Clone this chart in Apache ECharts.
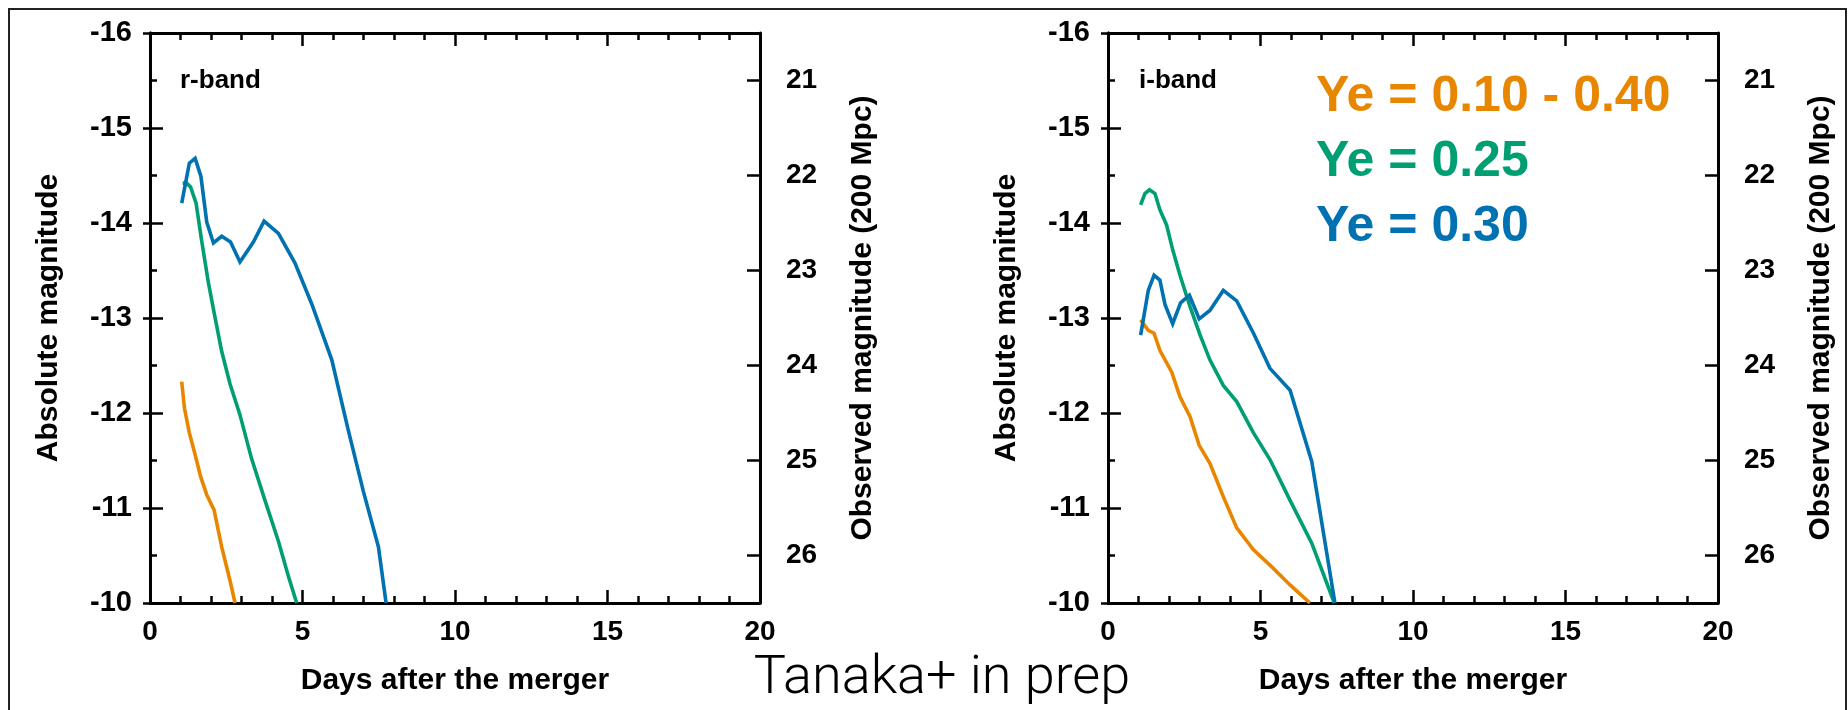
<!DOCTYPE html>
<html>
<head>
<meta charset="utf-8">
<script src="https://cdn.jsdelivr.net/npm/echarts@6/dist/echarts.min.js"></script>
<style>html,body{margin:0;padding:0;background:#fff}#c{width:1848px;height:710px}</style>
</head>
<body>
<div id="c"></div>
<script>
// ---- data (days after merger, absolute magnitude) ----
const rOrange = [[1.04,-12.33],[1.13,-12.05],[1.29,-11.79],[1.48,-11.56],[1.66,-11.33],[1.86,-11.14],[2.10,-10.98],[2.35,-10.59],[2.62,-10.24],[2.79,-10.0]];
const rGreen = [[1.07,-14.42],[1.20,-14.42],[1.33,-14.38],[1.51,-14.21],[1.69,-13.82],[1.91,-13.38],[2.13,-13.01],[2.35,-12.65],[2.62,-12.31],[2.95,-11.98],[3.33,-11.52],[3.77,-11.08],[4.21,-10.65],[4.54,-10.28],[4.81,-10.0]];
const rBlue = [[1.04,-14.21],[1.29,-14.63],[1.48,-14.68],[1.67,-14.49],[1.86,-14.01],[2.08,-13.79],[2.35,-13.86],[2.64,-13.80],[2.95,-13.59],[3.39,-13.80],[3.74,-14.02],[4.21,-13.89],[4.75,-13.58],[5.30,-13.15],[5.96,-12.56],[6.50,-11.82],[7.00,-11.17],[7.49,-10.59],[7.74,-10.0]];
const iOrange = [[1.07,-12.98],[1.32,-12.87],[1.51,-12.84],[1.70,-12.66],[2.09,-12.43],[2.36,-12.17],[2.69,-11.96],[2.99,-11.66],[3.34,-11.47],[3.78,-11.12],[4.22,-10.79],[4.77,-10.56],[5.37,-10.38],[5.97,-10.19],[6.62,-10.0]];
const iGreen = [[1.07,-14.19],[1.21,-14.31],[1.36,-14.35],[1.54,-14.31],[1.70,-14.14],[1.92,-13.98],[2.12,-13.72],[2.36,-13.45],[2.69,-13.12],[3.02,-12.82],[3.34,-12.56],[3.78,-12.29],[4.22,-12.12],[4.77,-11.79],[5.31,-11.51],[5.97,-11.08],[6.68,-10.63],[7.42,-10.0]];
const iBlue = [[1.07,-12.82],[1.32,-13.29],[1.51,-13.45],[1.70,-13.40],[1.87,-13.14],[2.12,-12.94],[2.38,-13.16],[2.67,-13.24],[2.99,-12.99],[3.34,-13.08],[3.78,-13.29],[4.22,-13.18],[4.77,-12.84],[5.31,-12.47],[5.97,-12.24],[6.68,-11.49],[7.44,-10.0]];
const obsTicks = [21, 22, 23, 24, 25, 26];
const legendLabels = ['Ye = 0.10 - 0.40', 'Ye = 0.25', 'Ye = 0.30'];
const bandLabels = ['r-band', 'i-band'];
const colors = ['#E88600', '#009E73', '#0072B2'];
const distMod = 36.5; // 200 Mpc

const FONT = 'Liberation Sans';
const chart = echarts.init(document.getElementById('c'), null, {renderer: 'canvas'});

const grids = [
  {left: 150, top: 33, width: 610, height: 570},
  {left: 1108, top: 33, width: 610, height: 570}
];
const axisLine = {show: true, lineStyle: {color: '#000', width: 3}};
const tickStyle = {color: '#000', width: 2.5};

const xAxes = [], yAxes = [], series = [];
grids.forEach((g, gi) => {
  xAxes.push({
    type: 'value', gridIndex: gi, position: 'bottom', min: 0, max: 20, interval: 5,
    axisLine, splitLine: {show: false},
    axisTick: {inside: true, length: 13, lineStyle: tickStyle},
    minorTick: {show: true, splitNumber: 5, length: 7, lineStyle: tickStyle},
    axisLabel: {margin: 15, color: '#000', fontFamily: FONT, fontWeight: 'bold', fontSize: 28},
    name: 'Days after the merger', nameLocation: 'middle', nameGap: 63,
    nameTextStyle: {color: '#000', fontFamily: FONT, fontWeight: 'bold', fontSize: 30}
  });
  xAxes.push({
    type: 'value', gridIndex: gi, position: 'top', min: 0, max: 20, interval: 5,
    axisLine, splitLine: {show: false},
    axisTick: {inside: true, length: 13, lineStyle: tickStyle},
    minorTick: {show: true, splitNumber: 5, length: 7, lineStyle: tickStyle},
    axisLabel: {show: false}
  });
  yAxes.push({
    type: 'value', gridIndex: gi, position: 'left', min: -16, max: -10, interval: 1, inverse: true,
    axisLine, splitLine: {show: false},
    axisTick: {inside: true, length: 13, lineStyle: tickStyle},
    minorTick: {show: true, splitNumber: 2, length: 7, lineStyle: tickStyle},
    axisLabel: {margin: 18, color: '#000', fontFamily: FONT, fontWeight: 'bold', fontSize: 29},
    name: 'Absolute magnitude', nameLocation: 'middle', nameGap: 86,
    nameTextStyle: {color: '#000', fontFamily: FONT, fontWeight: 'bold', fontSize: 30}
  });
  yAxes.push({
    type: 'value', gridIndex: gi, position: 'right', min: -16, max: -10, interval: 1, inverse: true,
    axisLine, splitLine: {show: false},
    axisTick: {inside: true, length: 7, lineStyle: tickStyle},
    axisLabel: {show: false}
  });
  yAxes.push({
    type: 'value', gridIndex: gi, position: 'right', min: -16 + distMod, max: -10 + distMod, inverse: true,
    axisLine, splitLine: {show: false},
    axisTick: {inside: true, length: 13, lineStyle: tickStyle, customValues: obsTicks},
    axisLabel: {margin: 26, color: '#000', fontFamily: FONT, fontWeight: 'bold', fontSize: 28, customValues: obsTicks},
    name: 'Observed magnitude (200 Mpc)', nameLocation: 'middle', nameGap: 88, nameRotate: 90,
    nameTextStyle: {color: '#000', fontFamily: FONT, fontWeight: 'bold', fontSize: 30}
  });
});

const panels = [[rOrange, rGreen, rBlue], [iOrange, iGreen, iBlue]];
panels.forEach((sets, gi) => {
  sets.forEach((d, si) => {
    series.push({
      type: 'line', name: legendLabels[si], xAxisIndex: gi * 2, yAxisIndex: gi * 3,
      data: d, showSymbol: false, symbol: 'none', smooth: false, clip: true,
      lineStyle: {color: colors[si], width: 3.6, join: 'miter'}, z: 5 + si
    });
  });
});

const graphic = [
  {type: 'rect', shape: {x: 9, y: 9, width: 1837, height: 720}, style: {fill: 'none', stroke: '#222', lineWidth: 2}, silent: true},
  {type: 'text', x: 180, y: 68, style: {text: bandLabels[0], fill: '#000', font: 'bold 26px "Liberation Sans"'}},
  {type: 'text', x: 1139, y: 68, style: {text: bandLabels[1], fill: '#000', font: 'bold 26px "Liberation Sans"'}},
  {type: 'text', x: 942, y: 652, style: {text: 'Tanaka+ in prep', fill: '#000', align: 'center', font: '300 54px Roboto'}}
];
legendLabels.forEach((t, i) => {
  graphic.push({type: 'text', x: 1316, y: 72 + i * 65, style: {text: t, fill: colors[i], font: 'bold 50px "Liberation Sans"'}});
});

chart.setOption({
  animation: false,
  backgroundColor: '#fff',
  grid: grids,
  xAxis: xAxes,
  yAxis: yAxes,
  series,
  graphic
});
</script>
</body>
</html>
